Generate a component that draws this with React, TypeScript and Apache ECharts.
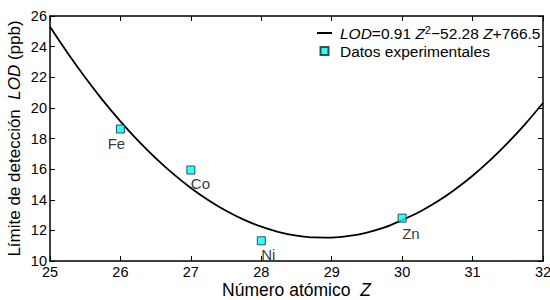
import React, { useEffect, useRef } from "react";
import * as echarts from "echarts";

// Experimental data
const elements = ["Fe", "Co", "Ni", "Zn"];
const atomicNumbers = [26, 27, 28, 30];
const lodValues = [18.62, 15.94, 11.32, 12.8];

// Fitted curve
const fitZ = [25, 25.25, 25.5, 25.75, 26, 26.25, 26.5, 26.75, 27, 27.25, 27.5, 27.75, 28, 28.25, 28.5, 28.75, 29, 29.25, 29.5, 29.75, 30, 30.25, 30.5, 30.75, 31, 31.25, 31.5, 31.75, 32];
const fitLOD = [25.29, 23.58, 21.98, 20.49, 19.12, 17.86, 16.72, 15.69, 14.77, 13.97, 13.28, 12.7, 12.24, 11.89, 11.66, 11.54, 11.53, 11.64, 11.86, 12.19, 12.68, 13.22, 13.88, 14.67, 15.57, 16.59, 17.72, 18.96, 20.32];

const fitName = "LOD=0.91 Z^2-52.28 Z+766.5";
const dataName = "Datos experimentales";

const FONT = "'Liberation Sans', Arial, Helvetica, sans-serif";

const labelAligns = ["center", "left", "left", "left"];
const labelOffsets = [[-4, 1], [0, 0], [0, 1], [0, 2]];

export default function App() {
  const ref = useRef<HTMLDivElement>(null);
  useEffect(() => {
    if (!ref.current) return;
    const chart = echarts.init(ref.current, undefined, { renderer: "svg" });
    const axisCommon = {
      type: "value" as const,
      axisLine: { show: true, onZero: false, lineStyle: { color: "#000", width: 1.5 } },
      axisTick: { show: true, inside: true, length: 5, lineStyle: { color: "#000", width: 1 } },
      splitLine: { show: false },
    };
    chart.setOption({
      animation: false,
      grid: { left: 50, right: 7, top: 16, bottom: 39, containLabel: false, outerBoundsMode: "none" },
      legend: {
        orient: "vertical",
        left: 317,
        top: 24,
        padding: 0,
        itemWidth: 15,
        itemHeight: 8,
        itemGap: 0,
        symbolKeepAspect: true,
        data: [
          { name: fitName, icon: "path://M0,0h15v2h-15z" },
          { name: dataName, icon: "path://M0,0h10v10h-10z" },
        ],
        formatter: (name: string) =>
          name === fitName ? "{i|LOD}=0.91 {i|Z}{s|2}\u221252.28 {i|Z}+766.5" : name,
        textStyle: {
          fontFamily: FONT,
          fontSize: 15.5,
          color: "#000",
          lineHeight: 18,
          padding: [0, 0, 0, 3],
          rich: {
            i: { fontStyle: "italic", fontFamily: FONT, fontSize: 15.5, color: "#000", lineHeight: 18 },
            s: { fontFamily: FONT, fontSize: 11, color: "#000", lineHeight: 10, verticalAlign: "top" },
          },
        },
      },
      xAxis: [
        {
          ...axisCommon,
          min: 25,
          max: 32,
          interval: 1,
          position: "bottom",
          name: "Número atómico  {i|Z}",
          nameLocation: "middle",
          nameGap: 20.5,
          nameMoveOverlap: false,
          nameTextStyle: {
            fontFamily: FONT,
            fontSize: 17.5,
            lineHeight: 17,
            color: "#000",
            verticalAlign: "top",
            rich: { i: { fontStyle: "italic", fontFamily: FONT, fontSize: 17.5, lineHeight: 17, color: "#000" } },
          },
          axisLabel: { fontFamily: FONT, fontSize: 14.5, lineHeight: 14, color: "#000", margin: 4 },
        },
        {
          ...axisCommon,
          min: 25,
          max: 32,
          interval: 1,
          position: "top",
          axisLabel: { show: false },
        },
      ],
      yAxis: [
        {
          ...axisCommon,
          min: 10,
          max: 26,
          interval: 2,
          position: "left",
          name: "Límite de detección  {i|LOD} (ppb)",
          nameLocation: "middle",
          nameGap: 27,
          nameMoveOverlap: false,
          nameTextStyle: {
            fontFamily: FONT,
            fontSize: 17,
            color: "#000",
            rich: { i: { fontStyle: "italic", fontFamily: FONT, fontSize: 17, color: "#000" } },
          },
          axisLabel: { fontFamily: FONT, fontSize: 14.5, color: "#000", margin: 3 },
        },
        {
          ...axisCommon,
          min: 10,
          max: 26,
          interval: 2,
          position: "right",
          axisLabel: { show: false },
        },
      ],
      series: [
        {
          name: fitName,
          type: "line",
          xAxisIndex: 0,
          yAxisIndex: 0,
          data: fitZ.map((z, i) => [z, fitLOD[i]]),
          smooth: 0.3,
          symbol: "none",
          lineStyle: { color: "#000", width: 1.8 },
          itemStyle: { color: "#000" },
          z: 2,
        },
        {
          name: dataName,
          type: "scatter",
          xAxisIndex: 0,
          yAxisIndex: 0,
          symbol: "rect",
          symbolSize: 8,
          itemStyle: { color: "#00FFFF", borderColor: "#0a2a2a", borderWidth: 1 },
          data: atomicNumbers.map((z, i) => ({
            value: [z, lodValues[i]],
            label: { align: labelAligns[i], offset: labelOffsets[i] },
          })),
          label: {
            show: true,
            position: "bottom",
            distance: 1,
            fontFamily: FONT,
            fontSize: 15,
            color: "#000",
            formatter: (p: any) => elements[p.dataIndex],
          },
          z: 3,
        },
      ],
    });
    return () => chart.dispose();
  }, []);
  return (
    <div
      ref={ref}
      style={{ position: "fixed", left: 0, top: 0, width: 550, height: 300, background: "#fff" }}
    />
  );
}
